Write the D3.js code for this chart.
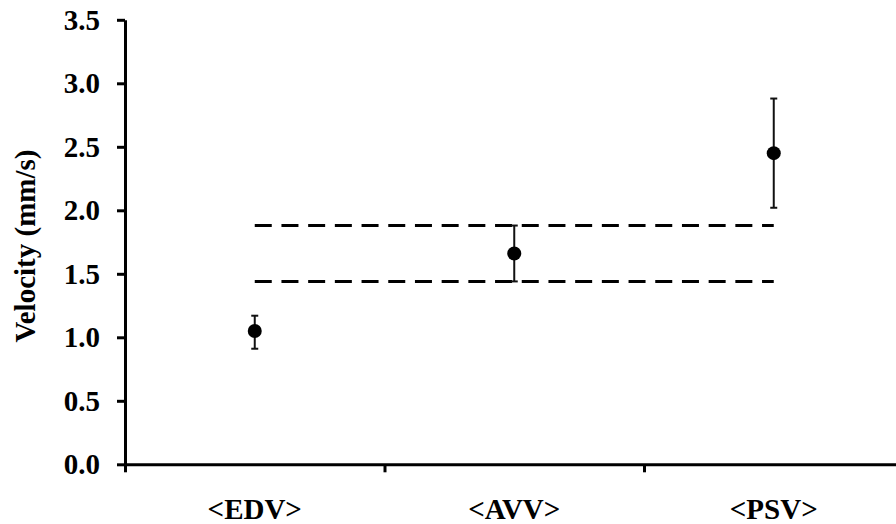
<!DOCTYPE html>
<html><head><meta charset="utf-8">
<script src="https://cdn.jsdelivr.net/npm/d3@7"></script>
<style>body{margin:0;background:#fff}svg{display:block}</style>
</head><body><svg id="c" width="896" height="524"></svg>
<script>
const categories = ["<EDV>", "<AVV>", "<PSV>"];
const means = [1.05, 1.66, 2.45];
const lower = [0.91, 1.44, 2.02];
const upper = [1.17, 1.88, 2.88];
const refLines = [1.88, 1.44];
const yTicks = [0, 0.5, 1.0, 1.5, 2.0, 2.5, 3.0, 3.5];
const yLabel = "Velocity (mm/s)";

(function () {
const svg = d3.select("#c");
const font = "'Liberation Serif','Times New Roman',serif";
const fs = 29;
const pLeft = 125, pRight = 903.5, pTop = 19.8, pBottom = 464.3;

const y = d3.scaleLinear().domain([0, 3.5]).range([pBottom, pTop]);
const xb = d3.scaleBand().domain(categories).range([pLeft, pRight]);
const xl = d3.scaleLinear().domain([0, categories.length]).range([pLeft, pRight]);
const cx = d => xb(d) + xb.bandwidth() / 2;

// y axis
const ya = svg.append("g").attr("transform", `translate(${pLeft},0)`)
  .call(d3.axisLeft(y).tickValues(yTicks).tickFormat(d3.format(".1f")).tickSize(8).tickSizeOuter(0).tickPadding(17));
ya.select(".domain").attr("stroke-width", 3);
ya.selectAll(".tick line").attr("stroke-width", 3);
ya.selectAll(".tick text").attr("font-family", font).attr("font-weight", "bold").attr("font-size", fs).attr("fill", "#000");

// x axis ticks
const xa = svg.append("g").attr("transform", `translate(0,${pBottom})`)
  .call(d3.axisBottom(xl).tickValues(d3.range(categories.length + 1)).tickFormat("").tickSize(8).tickSizeOuter(0));
xa.select(".domain").attr("stroke-width", 3);
xa.selectAll(".tick line").attr("stroke-width", 3);

// x labels
const xlab = svg.append("g").attr("transform", `translate(0,${pBottom})`)
  .call(d3.axisBottom(xb).tickSize(0).tickPadding(34));
xlab.select(".domain").remove();
xlab.selectAll(".tick text").attr("font-family", font).attr("font-weight", "bold").attr("font-size", fs).attr("fill", "#000");

// y title
svg.append("text").attr("transform", `translate(35,${(pTop + pBottom) / 2 + 4}) rotate(-90)`)
  .attr("text-anchor", "middle").attr("font-family", font).attr("font-weight", "bold").attr("font-size", fs)
  .text(yLabel);

// reference dashed lines
svg.selectAll(".ref").data(refLines).enter().append("line")
  .attr("x1", cx(categories[0])).attr("x2", cx(categories[categories.length - 1]))
  .attr("y1", d => y(d)).attr("y2", d => y(d))
  .attr("stroke", "#000").attr("stroke-width", 3).attr("stroke-dasharray", "17,9.7");

// error bars
const data = categories.map((c, i) => ({c, m: means[i], lo: lower[i], hi: upper[i]}));
const eb = svg.selectAll(".eb").data(data).enter().append("g");
eb.append("line").attr("x1", d => cx(d.c)).attr("x2", d => cx(d.c))
  .attr("y1", d => y(d.lo)).attr("y2", d => y(d.hi)).attr("stroke", "#111").attr("stroke-width", 2);
["lo", "hi"].forEach(k => {
  eb.append("line").attr("x1", d => cx(d.c) - 3.5).attr("x2", d => cx(d.c) + 3.5)
    .attr("y1", d => y(d[k])).attr("y2", d => y(d[k])).attr("stroke", "#111").attr("stroke-width", 2);
});
eb.append("circle").attr("cx", d => cx(d.c)).attr("cy", d => y(d.m)).attr("r", 7).attr("fill", "#000");
})();
</script></body></html>
